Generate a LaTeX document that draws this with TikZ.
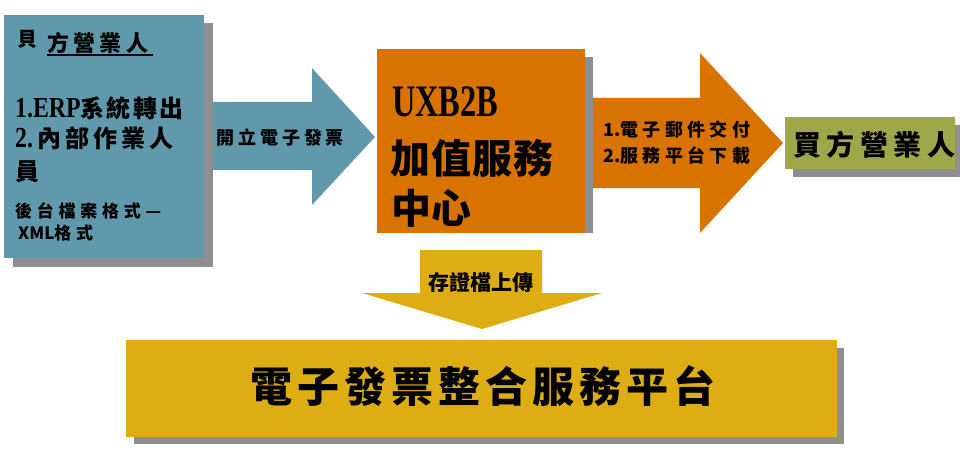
\documentclass[tikz,border=0pt]{standalone}
\usepackage{fontspec}
\setmainfont{Noto Sans CJK TC}
\newfontfamily\serf[FakeStretch=0.82]{Liberation Serif}
\newfontfamily\serc[FakeStretch=0.72]{Liberation Serif}
\newcommand\lsp[1]{\addfontfeature{LetterSpace=#1}}
\newcommand\fsz[1]{\fontsize{#1}{#1}\selectfont}
\definecolor{cblue}{HTML}{6199AC}
\definecolor{corange}{HTML}{D97300}
\definecolor{cgreen}{HTML}{9EA84A}
\definecolor{cyellow}{HTML}{DEAC13}
\definecolor{cshadow}{HTML}{8F8F8F}
\tikzset{
  txt/.style={inner sep=0pt, anchor=west, text=black},
  shadowfill/.style={fill=cshadow},
}
\begin{document}
\begin{tikzpicture}[x=1pt,y=-1pt]
\useasboundingbox (0,0) rectangle (960,457);
% ---------- shadows ----------
\fill[shadowfill] (13,23) rectangle (213,267);
\fill[shadowfill] (585,57) rectangle (593,233);
\fill[shadowfill] (793,125) rectangle (960,177);
\fill[shadowfill] (134,348) rectangle (844,444);
% ---------- boxes ----------
\fill[cblue] (4,15) rectangle (204,258);
\fill[corange] (377,49) rectangle (585,233);
\fill[cgreen] (785,117) rectangle (955,169);
\fill[cyellow] (126,340) rectangle (837,437);
% ---------- arrows ----------
\fill[cblue] (213,102) -- (312,102) -- (312,68) -- (375,137) -- (312,205) -- (312,170) -- (213,170) -- cycle;
\fill[corange] (593,98) -- (700,98) -- (700,53) -- (783,143) -- (700,233) -- (700,188) -- (593,188) -- cycle;
\fill[cyellow] (420,250) -- (542,250) -- (542,293) -- (602,293) -- (482,329) -- (362,293) -- (420,293) -- cycle;
% ---------- left box texts ----------
\node[txt, font=\fsz{20}\bfseries] (s0) at (17,39) {貝};
\node[txt, font=\fsz{22}\bfseries\lsp{20}] (s1) at (47,43) {方營業人};
\draw[line width=1.6pt] (47,55) -- (153,55);
\node[txt, font=\fsz{24}\bfseries] (r1) at (15,108) {{\serf\fsz{29}1.ERP}{\lsp{10}系統轉出}};
\node[txt, font=\fsz{24}\bfseries] (r2) at (15,138) {{\serf\fsz{29}2.\,}{\lsp{16}內部作業人}};
\node[txt, font=\fsz{24}\bfseries] (r3) at (15,172) {員};
\node[txt, font=\fsz{17}\bfseries\lsp{28}] (r4) at (15,211) {後台檔案格式—};
\node[txt, font=\fsz{17}\bfseries] (r5) at (18,233) {XML{\lsp{28}格式}};
% ---------- arrow 1 ----------
\node[txt, font=\fsz{18}\bfseries\lsp{22}] (a1) at (216,138) {開立電子發票};
% ---------- center box ----------
\node[txt, font=\serc\bfseries\fsz{45}] (c1) at (392,102) {UXB2B};
\node[txt, font=\fsz{40}\bfseries\lsp{3}] (c2) at (390,158) {加值服務};
\node[txt, font=\fsz{40}\bfseries] (c3) at (391,208) {中心};
% ---------- arrow 2 ----------
\node[txt, font=\fsz{18}\bfseries] (b1) at (603,130) {1.{\lsp{24}電子郵件交付}};
\node[txt, font=\fsz{18}\bfseries] (b2) at (603,155) {2.{\lsp{24}服務平台下載}};
% ---------- buyer ----------
\node[txt, font=\fsz{28}\bfseries\lsp{20}] (g1) at (793,145) {買方營業人};
% ---------- down arrow ----------
\node[txt, font=\fsz{21}\bfseries] (d1) at (428,282) {存證檔上傳};
% ---------- bottom ----------
\node[txt, font=\fsz{42}\bfseries\lsp{12}] (p1) at (250,386) {電子發票整合服務平台};
\end{tikzpicture}
\end{document}
